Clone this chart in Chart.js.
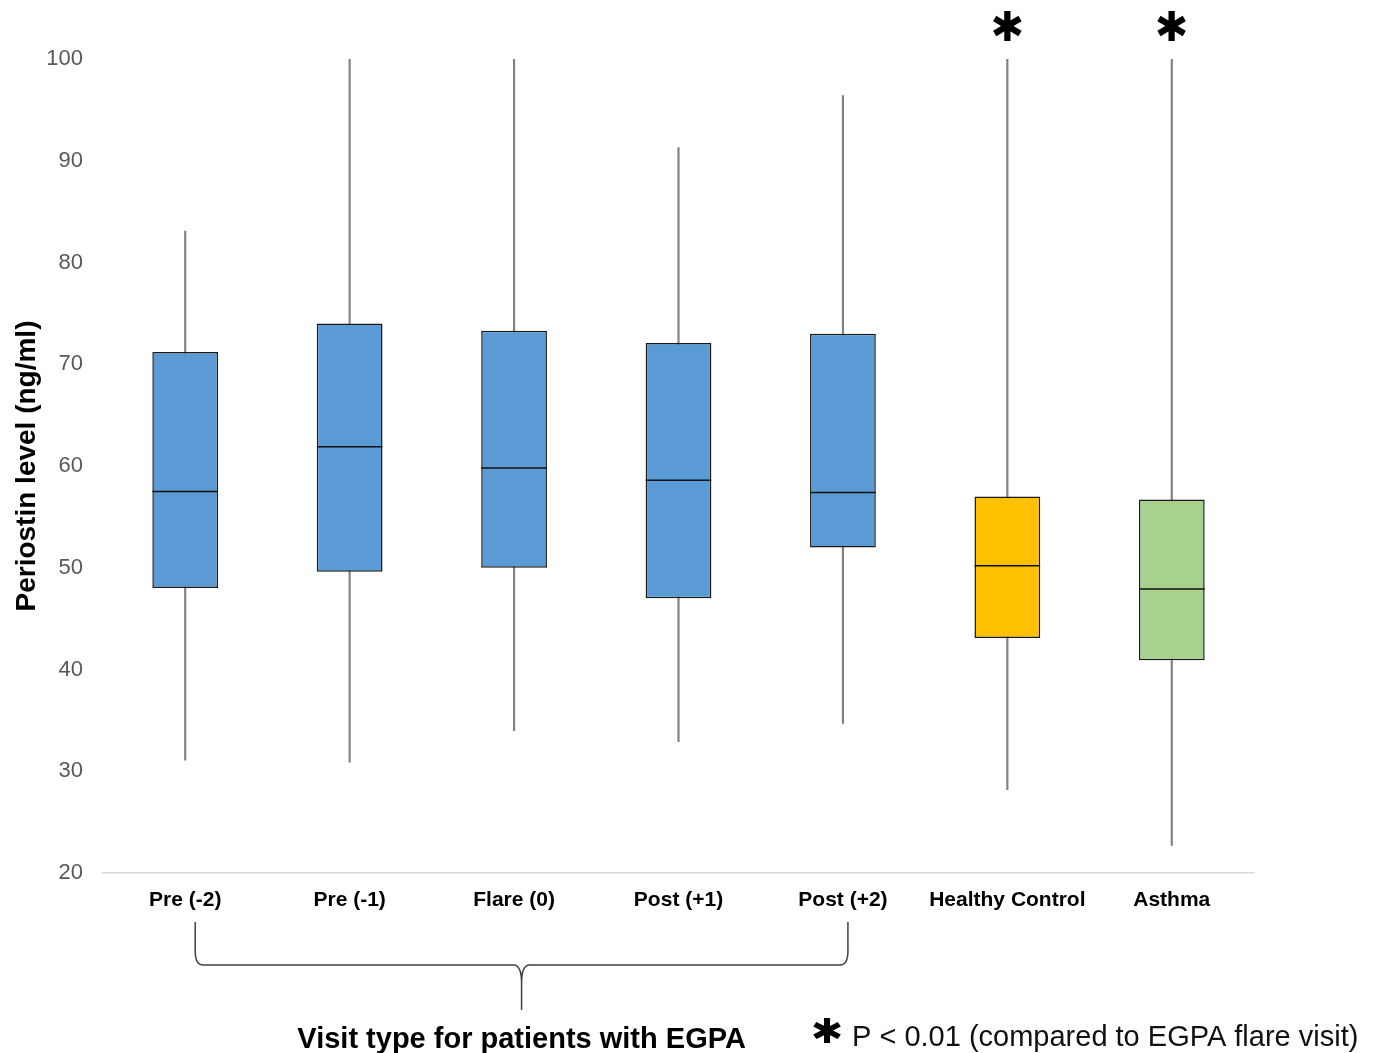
<!DOCTYPE html>
<html>
<head>
<meta charset="utf-8">
<script src="https://cdn.jsdelivr.net/npm/chart.js@4.4.1/dist/chart.umd.min.js"></script>
<style>
  body { margin: 0; background: #fff; }
</style>
</head>
<body>
<canvas id="myChart" width="1376" height="1053"></canvas>
<script>
// values
const labels = ['Pre (-2)', 'Pre (-1)', 'Flare (0)', 'Post (+1)', 'Post (+2)', 'Healthy Control', 'Asthma'];
const mins    = [31.1, 30.9, 34.0, 32.9, 34.7, 28.2, 22.7];
const q1s     = [48.0, 49.6, 50.0, 47.0, 52.0, 43.1, 40.9];
const medians = [57.5, 61.9, 59.8, 58.6, 57.4, 50.2, 47.9];
const q3s     = [71.2, 74.0, 73.3, 72.1, 73.0, 57.0, 56.7];
const maxs    = [83.1, 100, 100, 91.3, 96.4, 100, 100];
const starred = [5, 6];
const boxColors = ['#5b9bd5', '#5b9bd5', '#5b9bd5', '#5b9bd5', '#5b9bd5', '#ffc000', '#a9d18e'];
const egpaGroup = [0, 4];

const font = '"Liberation Sans", Arial, sans-serif';

// heavy six-spoke asterisk, scaled to a given box
function drawStar(ctx, cx, cy, w, h) {
    ctx.save();
    ctx.font = 'bold 100px "DejaVu Sans"';
    ctx.textAlign = 'left';
    ctx.textBaseline = 'alphabetic';
    const mt = ctx.measureText('\u2731');
    const gw = mt.actualBoundingBoxLeft + mt.actualBoundingBoxRight;
    const gh = mt.actualBoundingBoxAscent + mt.actualBoundingBoxDescent;
    ctx.translate(cx, cy);
    ctx.scale(w / gw, h / gh);
    ctx.fillText('\u2731', (mt.actualBoundingBoxLeft - mt.actualBoundingBoxRight) / 2,
        (mt.actualBoundingBoxAscent - mt.actualBoundingBoxDescent) / 2);
    ctx.restore();
}

const extras = {
    id: 'extras',
    afterDraw(chart) {
        const ctx = chart.ctx;
        const x = chart.scales.x;
        const y = chart.scales.y;
        ctx.save();
        ctx.fillStyle = '#000';

        // significance stars
        starred.forEach(i => {
            drawStar(ctx, x.getPixelForValue(i), y.getPixelForValue(100) - 33, 29, 30);
        });

        // brace under the EGPA visits
        const l = x.getPixelForValue(egpaGroup[0]) + 10;
        const r = x.getPixelForValue(egpaGroup[1]) + 5;
        const m = (l + r) / 2;
        const top = 922, mid = 965, tip = 1010;
        ctx.strokeStyle = '#404040';
        ctx.lineWidth = 1.5;
        ctx.beginPath();
        ctx.moveTo(l, top);
        ctx.lineTo(l, mid - 14);
        ctx.quadraticCurveTo(l, mid, l + 8, mid);
        ctx.lineTo(m - 8, mid);
        ctx.quadraticCurveTo(m, mid, m, mid + 18);
        ctx.lineTo(m, tip);
        ctx.moveTo(m, mid + 18);
        ctx.quadraticCurveTo(m, mid, m + 8, mid);
        ctx.lineTo(r - 8, mid);
        ctx.quadraticCurveTo(r, mid, r, mid - 14);
        ctx.lineTo(r, top);
        ctx.stroke();

        // bottom texts
        ctx.textBaseline = 'alphabetic';
        ctx.font = 'bold 29px ' + font;
        ctx.textAlign = 'center';
        ctx.fillText('Visit type for patients with EGPA', m, 1048);

        drawStar(ctx, 827, 1030, 28, 25);
        ctx.textAlign = 'left';
        ctx.font = '29px ' + font;
        ctx.fillStyle = '#111';
        ctx.fillText('P < 0.01 (compared to EGPA flare visit)', 852, 1046);

        ctx.restore();
    }
};

const ctx = document.getElementById('myChart').getContext('2d');
const myChart = new Chart(ctx, {
    type: 'bar',
    data: {
        labels: labels,
        datasets: [
            {
                type: 'line',
                label: 'median',
                data: medians,
                showLine: false,
                pointStyle: 'line',
                pointRadius: 32.8,
                pointHoverRadius: 32.8,
                pointBorderWidth: 1.5,
                pointBorderColor: '#111',
                order: 0
            },
            {
                label: 'box',
                data: labels.map((_, i) => [q1s[i], q3s[i]]),
                backgroundColor: boxColors,
                borderColor: '#1a1a1a',
                borderWidth: 1.5,
                borderSkipped: false,
                barPercentage: 0.4,
                categoryPercentage: 1,
                grouped: false,
                order: 1
            },
            {
                label: 'whisker',
                data: labels.map((_, i) => [mins[i], maxs[i]]),
                backgroundColor: '#808080',
                borderWidth: 0,
                barThickness: 1.5,
                grouped: false,
                order: 2
            }
        ]
    },
    options: {
        responsive: false,
        animation: false,
        layout: { padding: { top: 59, right: 122, left: 0, bottom: 0 } },
        plugins: {
            legend: { display: false },
            tooltip: { enabled: false }
        },
        scales: {
            x: {
                grid: { display: false, drawTicks: false },
                border: { display: true, color: '#d9d9d9', width: 1.5 },
                ticks: {
                    color: '#000',
                    padding: 15,
                    maxRotation: 0,
                    autoSkip: false,
                    font: { family: font, size: 21, weight: 'bold' }
                },
                afterFit(scale) { scale.height = 180; }
            },
            y: {
                min: 20,
                max: 100,
                grid: { display: false, drawTicks: false },
                border: { display: false },
                ticks: {
                    stepSize: 10,
                    color: '#595959',
                    padding: 20,
                    font: { family: font, size: 22 }
                },
                title: {
                    display: true,
                    text: 'Periostin level (ng/ml)',
                    color: '#000',
                    padding: { top: 10, bottom: 0 },
                    font: { family: font, size: 28, weight: 'bold' }
                },
                afterFit(scale) { scale.width = 103; }
            }
        }
    },
    plugins: [extras]
});
</script>
</body>
</html>
